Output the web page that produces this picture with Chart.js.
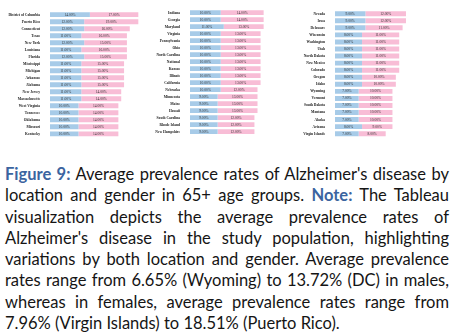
<!DOCTYPE html>
<html>
<head>
<meta charset="utf-8">
<script src="https://cdn.jsdelivr.net/npm/chart.js@4"></script>
<style>
	html, body { margin: 0; padding: 0; background: #fff; }
	body { width: 456px; height: 335px; position: relative; overflow: hidden; }
	.coluna { position: absolute; }
	.legenda {
		position: absolute; left: 5px; top: 164px; width: 444px;
		font-family: Lato, "Noto Sans", sans-serif; font-size: 16.5px;
		line-height: 21.3px; color: #151515;
	}
	.legenda div { white-space: nowrap; text-align: justify; text-align-last: justify; }
	.legenda div.ultima { text-align-last: left; }
	.legenda b { color: #3b64a0; }
</style>
</head>
<body>

<div class="coluna" style="left:0px; top:6.8px; width:148px; height:134.5px;"><canvas id="coluna1"></canvas></div>
<div class="coluna" style="left:148px; top:5px; width:150px; height:134.3px;"><canvas id="coluna2"></canvas></div>
<div class="coluna" style="left:298px; top:5.7px; width:158px; height:135.4px;"><canvas id="coluna3"></canvas></div>

<div class="legenda">
	<div><b>Figure 9:</b> Average prevalence rates of Alzheimer's disease by</div>
	<div>location and gender in 65+ age groups. <b>Note:</b> The Tableau</div>
	<div>visualization depicts the average prevalence rates of</div>
	<div>Alzheimer's disease in the study population, highlighting</div>
	<div>variations by both location and gender. Average prevalence</div>
	<div>rates range from 6.65% (Wyoming) to 13.72% (DC) in males,</div>
	<div>whereas in females, average prevalence rates range from</div>
	<div class="ultima">7.96% (Virgin Islands) to 18.51% (Puerto Rico).</div>
</div>

<script>
// primeira coluna
var locais1 = ['District of Columbia', 'Puerto Rico', 'Connecticut', 'Texas', 'New York', 'Louisiana',
	'Florida', 'Mississippi', 'Michigan', 'Arkansas', 'Alabama', 'New Jersey', 'Massachusetts',
	'West Virginia', 'Tennessee', 'Oklahoma', 'Missouri', 'Kentucky'];
var homens1 = [14, 12, 12, 11, 12, 11, 12, 11, 11, 11, 11, 11, 11, 10, 10, 10, 10, 10];
var mulheres1 = [17, 19, 16, 16, 15, 16, 15, 15, 15, 15, 15, 14, 14, 14, 14, 14, 14, 14];

// segunda coluna
var locais2 = ['Indiana', 'Georgia', 'Maryland', 'Virginia', 'Pennsylvania', 'Ohio', 'North Carolina',
	'National', 'Kansas', 'Illinois', 'California', 'Nebraska', 'Minnesota', 'Maine', 'Hawaii',
	'South Carolina', 'Rhode Island', 'New Hampshire'];
var homens2 = [10, 10, 11, 10, 10, 10, 10, 10, 10, 10, 10, 10, 9, 9, 9, 9, 9, 9];
var mulheres2 = [14, 14, 13, 13, 13, 13, 13, 13, 13, 13, 13, 12, 13, 13, 13, 12, 12, 12];

// terceira coluna
var locais3 = ['Nevada', 'Iowa', 'Delaware', 'Wisconsin', 'Washington', 'Utah', 'North Dakota',
	'New Mexico', 'Colorado', 'Oregon', 'Idaho', 'Wyoming', 'Vermont', 'South Dakota', 'Montana',
	'Alaska', 'Arizona', 'Virgin Islands'];
var homens3 = [9, 9, 9, 8, 8, 8, 8, 8, 8, 8, 8, 7, 7, 7, 7, 7, 8, 7];
var mulheres3 = [12, 12, 11, 11, 11, 11, 11, 11, 11, 10, 10, 10, 10, 10, 10, 10, 9, 8];

var COR_HOMENS = '#a7cbe8';
var COR_MULHERES = '#f8bdd6';

// escreve o valor no meio de cada segmento
var rotulosBarras = {
	id: 'rotulosBarras',
	afterDatasetsDraw: function(chart) {
		var ctx = chart.ctx;
		ctx.save();
		ctx.font = '3.6px "Liberation Serif"';
		ctx.fillStyle = '#333';
		ctx.textAlign = 'center';
		ctx.textBaseline = 'middle';
		chart.data.datasets.forEach(function(ds, i) {
			chart.getDatasetMeta(i).data.forEach(function(barra, j) {
				ctx.fillText(ds.data[j].toFixed(2) + '%', (barra.x + barra.base) / 2, barra.y);
			});
		});
		ctx.restore();
	}
};

function criarColuna(id, locais, homens, mulheres, larguraEixo, maximo) {
	return new Chart(document.getElementById(id), {
		type: 'bar',
		data: {
			labels: locais,
			datasets: [{
				label: 'Male',
				backgroundColor: COR_HOMENS,
				data: homens
			},
			{
				label: 'Female',
				backgroundColor: COR_MULHERES,
				data: mulheres
			}]
		},
		options: {
			indexAxis: 'y',
			responsive: true,
			maintainAspectRatio: false,
			animation: false,
			barPercentage: 0.7,
			categoryPercentage: 1,
			layout: { padding: 0 },
			plugins: { legend: { display: false }, tooltip: { enabled: false } },
			scales: {
				x: { stacked: true, display: false, min: 0, max: maximo },
				y: {
					stacked: true,
					grid: { display: false },
					border: { display: false },
					ticks: {
						autoSkip: false,
						padding: 2,
						color: '#1a1a1a',
						font: { family: '"Liberation Serif"', size: 3.6, weight: 'bold' }
					},
					afterFit: function(escala) { escala.width = larguraEixo; }
				}
			}
		},
		plugins: [rotulosBarras]
	});
}

criarColuna('coluna1', locais1, homens1, mulheres1, 50, 34.4);
criarColuna('coluna2', locais2, homens2, mulheres2, 42, 35.2);
criarColuna('coluna3', locais3, homens3, mulheres3, 37, 35.8);
</script>
</body>
</html>
